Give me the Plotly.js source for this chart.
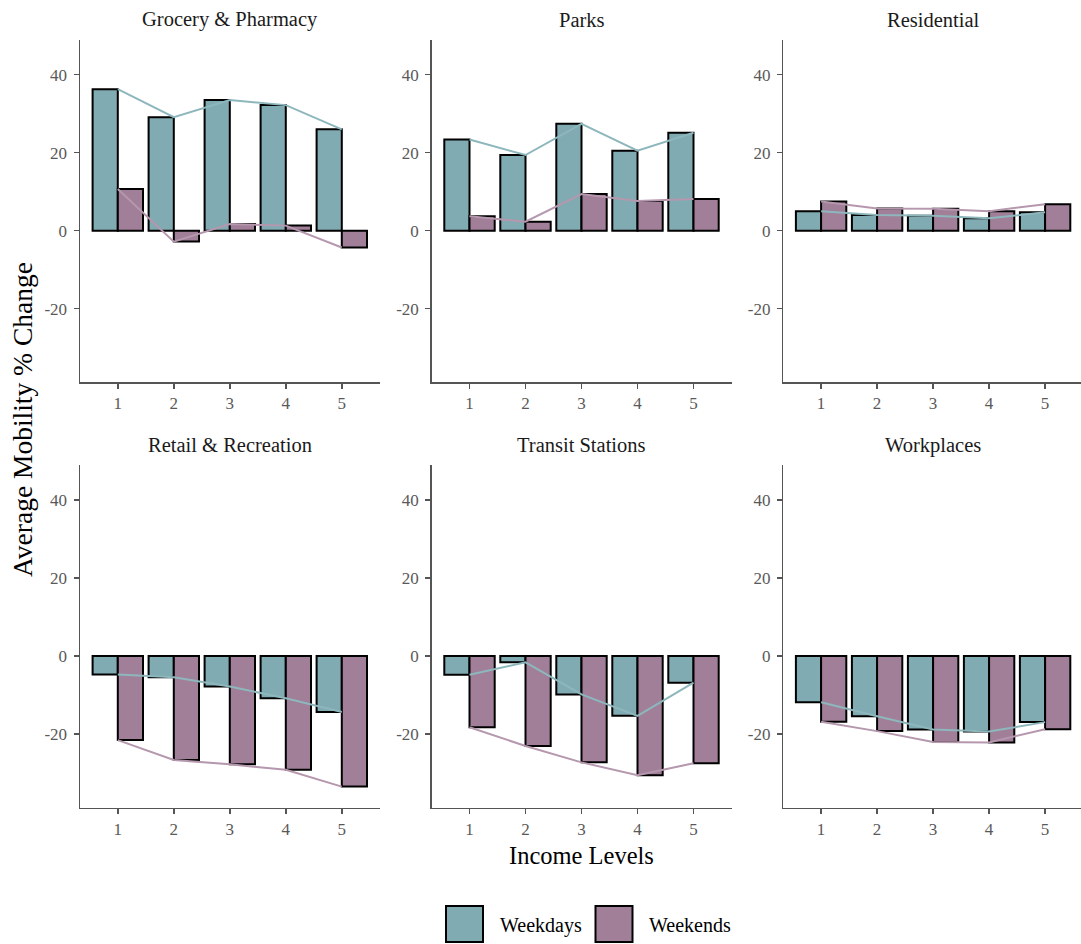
<!DOCTYPE html>
<html>
<head>
<meta charset="utf-8">
<script src="https://cdn.plot.ly/plotly-3.0.1.min.js"></script>
<style>html,body{margin:0;padding:0;background:#fff;}#chart{width:1081px;height:944px;}</style>
</head>
<body>
<div id="chart"></div>
<script>
// ---- data ----
const incomeLevels = [1, 2, 3, 4, 5];
const incomeTickText = ["1", "2", "3", "4", "5"];
const yTickVals = [40, 20, 0, -20];
const yTickText = ["40", "20", "0", "-20"];
const panelNames = ["Grocery & Pharmacy", "Parks", "Residential", "Retail & Recreation", "Transit Stations", "Workplaces"];
const seriesNames = ["Weekdays", "Weekends"];

const weekdaysGrocery = [36.3, 29.1, 33.5, 32.2, 26.0];
const weekendsGrocery = [10.7, -2.8, 1.7, 1.3, -4.3];
const weekdaysParks = [23.4, 19.4, 27.4, 20.5, 25.1];
const weekendsParks = [3.7, 2.3, 9.4, 7.6, 8.1];
const weekdaysResidential = [5.0, 4.0, 3.8, 3.2, 4.7];
const weekendsResidential = [7.5, 5.7, 5.6, 5.0, 6.8];
const weekdaysRetail = [-4.7, -5.4, -7.8, -10.8, -14.3];
const weekendsRetail = [-21.5, -26.6, -27.7, -29.1, -33.4];
const weekdaysTransit = [-4.8, -1.6, -9.8, -15.3, -6.8];
const weekendsTransit = [-18.2, -23.0, -27.2, -30.5, -27.4];
const weekdaysWorkplaces = [-11.8, -15.4, -18.8, -19.3, -16.9];
const weekendsWorkplaces = [-16.8, -19.2, -22.0, -22.1, -18.7];

// ---- build ----
const weekdaySeries = [weekdaysGrocery, weekdaysParks, weekdaysResidential, weekdaysRetail, weekdaysTransit, weekdaysWorkplaces];
const weekendSeries = [weekendsGrocery, weekendsParks, weekendsResidential, weekendsRetail, weekendsTransit, weekendsWorkplaces];

const W = 1081, H = 944;
const teal = "#80ABB2", mauve = "#A17F99";
const tealLine = "#8DB7BC", mauveLine = "#B597AE";
const serif = "Liberation Serif, Times New Roman, serif";

const colPx = [[80, 380], [431.7, 731.7], [783.3, 1081]];
const rowPx = [[40, 382], [465, 807.7]];
const unitPx = 56;
const xLo = 0.325;

const traces = [];
const layout = {
  width: W, height: H,
  margin: {l: 0, r: 0, t: 0, b: 0},
  paper_bgcolor: "#fff", plot_bgcolor: "#fff",
  showlegend: false,
  annotations: [], shapes: []
};

for (let i = 0; i < 6; i++) {
  const s = i === 0 ? "" : String(i + 1);
  const col = i % 3, row = Math.floor(i / 3);
  const [x0, x1] = colPx[col];
  const [y0, y1] = rowPx[row];
  traces.push({
    type: "bar", x: incomeLevels, y: weekdaySeries[i], name: seriesNames[0],
    xaxis: "x" + s, yaxis: "y" + s, width: 0.45, offset: -0.45,
    marker: {color: teal, line: {color: "#000", width: 2}}, hoverinfo: "x+y"
  });
  traces.push({
    type: "bar", x: incomeLevels, y: weekendSeries[i], name: seriesNames[1],
    xaxis: "x" + s, yaxis: "y" + s, width: 0.45, offset: 0,
    marker: {color: mauve, line: {color: "#000", width: 2}}, hoverinfo: "x+y"
  });
  traces.push({
    type: "scatter", mode: "lines", x: incomeLevels, y: weekdaySeries[i], name: seriesNames[0],
    xaxis: "x" + s, yaxis: "y" + s, line: {color: tealLine, width: 2}, hoverinfo: "skip"
  });
  traces.push({
    type: "scatter", mode: "lines", x: incomeLevels, y: weekendSeries[i], name: seriesNames[1],
    xaxis: "x" + s, yaxis: "y" + s, line: {color: mauveLine, width: 2}, hoverinfo: "skip"
  });

  const tickStyle = {family: serif, size: 17, color: "#595959"};
  layout["xaxis" + s] = {
    domain: [x0 / W, Math.min(x1 / W, 1)],
    range: [xLo, xLo + (x1 - x0) / unitPx],
    anchor: "y" + s,
    tickvals: incomeLevels, ticktext: incomeTickText,
    showline: true, linecolor: "#555", linewidth: 1.5,
    ticks: "outside", ticklen: 5, tickwidth: 1.5, tickcolor: "#555",
    showgrid: false, zeroline: false, tickfont: tickStyle, fixedrange: true
  };
  layout["yaxis" + s] = {
    domain: [1 - y1 / H, 1 - y0 / H],
    range: [-38.8, 48.9],
    anchor: "x" + s,
    tickvals: yTickVals, ticktext: yTickText,
    showline: true, linecolor: "#555", linewidth: 1.5,
    ticks: "outside", ticklen: 5, tickwidth: 1.5, tickcolor: "#555",
    ticklabelstandoff: 3,
    showgrid: false, zeroline: false, tickfont: tickStyle, fixedrange: true
  };
  const titleY = row === 0 ? 20 : 445;
  layout.annotations.push({
    text: panelNames[i], xref: "paper", yref: "paper",
    x: (x0 + 150) / W, y: 1 - titleY / H, xanchor: "center", yanchor: "middle",
    showarrow: false, font: {family: serif, size: 20.5, color: "#1a1a1a"}
  });
}

// axis titles
layout.annotations.push({
  text: "Income Levels", xref: "paper", yref: "paper",
  x: 581.7 / W, y: 1 - 855 / H, xanchor: "center", yanchor: "middle",
  showarrow: false, font: {family: serif, size: 24.5, color: "#000"}
});
layout.annotations.push({
  text: "Average Mobility % Change", xref: "paper", yref: "paper",
  x: 23 / W, y: 1 - 420 / H, xanchor: "center", yanchor: "middle", textangle: -90,
  showarrow: false, font: {family: serif, size: 27.5, color: "#000"}
});

// legend (drawn manually)
const legendKeys = [[446, 483, teal], [595.5, 632.5, mauve]];
const legendTextX = [498, 647];
for (let k = 0; k < 2; k++) {
  const [a, b, c] = legendKeys[k];
  layout.shapes.push({
    type: "rect", xref: "paper", yref: "paper",
    x0: a / W, x1: b / W, y0: 1 - 942 / H, y1: 1 - 906 / H,
    fillcolor: c, line: {color: "#000", width: 2}
  });
  layout.annotations.push({
    text: seriesNames[k], xref: "paper", yref: "paper",
    x: legendTextX[k] / W, y: 1 - 925 / H, xanchor: "left", yanchor: "middle",
    showarrow: false, font: {family: serif, size: 20, color: "#000"}
  });
}

Plotly.newPlot("chart", traces, layout, {displayModeBar: false, staticPlot: true});
</script>
</body>
</html>
